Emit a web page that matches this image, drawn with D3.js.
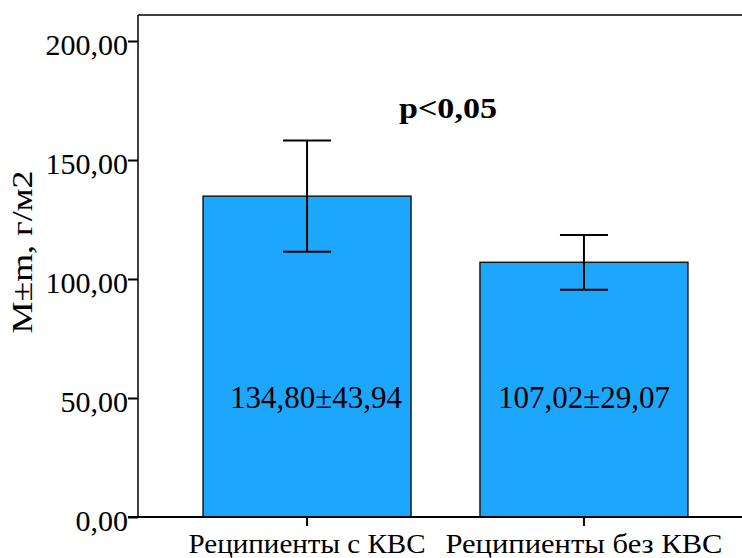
<!DOCTYPE html>
<html>
<head>
<meta charset="utf-8">
<script src="https://cdn.jsdelivr.net/npm/d3@7"></script>
<style>
  body { margin: 0; background: #fff; }
  svg text { font-family: "Liberation Serif", "DejaVu Serif", "Times New Roman", serif; fill: #000; }
</style>
</head>
<body>
<svg id="chart" width="742" height="558"></svg>
<script>
// data
const categories = ["Реципиенты с КВС", "Реципиенты без КВС"];
const means = [134.80, 107.02];
const errs = [23.4, 11.5];          // +/- m drawn as whiskers
const barLabels = ["134,80±43,94", "107,02±29,07"];
const yTicks = [0, 50, 100, 150, 200];

const svg = d3.select("#chart");
const plotLeft = 138, plotTop = 15, plotBottom = 517, plotRight = 742;

const y = d3.scaleLinear()
  .domain([0, 200])
  .range([plotBottom, 41]);

const x = d3.scaleBand()
  .domain(categories)
  .range([plotLeft, 753])
  .paddingInner(0.249)
  .paddingOuter(0.235);

const fmt = d => d.toFixed(2).replace(".", ",");

// frame: top line
svg.append("line")
  .attr("x1", plotLeft).attr("x2", plotRight)
  .attr("y1", plotTop).attr("y2", plotTop)
  .style("stroke", "#000").style("stroke-width", 1.5);

// bars
svg.selectAll("rect.bar")
  .data(categories)
  .enter().append("rect")
  .attr("class", "bar")
  .attr("x", d => x(d))
  .attr("width", x.bandwidth())
  .attr("y", (d, i) => y(means[i]))
  .attr("height", (d, i) => plotBottom - y(means[i]))
  .style("fill", "#1ca7fd")
  .style("stroke", "#1a1a1a")
  .style("stroke-width", 1.5);

// error bars
const capW = 24;
const eb = svg.selectAll("g.err")
  .data(categories)
  .enter().append("g")
  .attr("class", "err")
  .style("stroke", "#000").style("stroke-width", 2);
eb.append("line")
  .attr("x1", d => x(d) + x.bandwidth() / 2)
  .attr("x2", d => x(d) + x.bandwidth() / 2)
  .attr("y1", (d, i) => y(means[i] + errs[i]))
  .attr("y2", (d, i) => y(means[i] - errs[i]));
eb.append("line")
  .attr("x1", d => x(d) + x.bandwidth() / 2 - capW)
  .attr("x2", d => x(d) + x.bandwidth() / 2 + capW)
  .attr("y1", (d, i) => y(means[i] + errs[i]))
  .attr("y2", (d, i) => y(means[i] + errs[i]));
eb.append("line")
  .attr("x1", d => x(d) + x.bandwidth() / 2 - capW)
  .attr("x2", d => x(d) + x.bandwidth() / 2 + capW)
  .attr("y1", (d, i) => y(means[i] - errs[i]))
  .attr("y2", (d, i) => y(means[i] - errs[i]));

// value labels inside bars
svg.selectAll("text.val")
  .data(categories)
  .enter().append("text")
  .attr("class", "val")
  .attr("x", (d, i) => x(d) + x.bandwidth() / 2 + (i === 0 ? 9 : 0))
  .attr("y", 408)
  .style("text-anchor", "middle")
  .style("font-size", "31px")
  .text((d, i) => barLabels[i]);

// Y axis
const yAxis = svg.append("g")
  .attr("transform", "translate(" + plotLeft + ",0)")
  .call(d3.axisLeft(y).tickValues(yTicks).tickFormat(fmt).tickSize(10).tickSizeOuter(0));
yAxis.select(".domain").remove();
yAxis.selectAll(".tick line").style("stroke", "#000").style("stroke-width", 2);
yAxis.selectAll(".tick text")
  .attr("x", -10)
  .attr("dy", "0.45em")
  .style("font-size", "30px");
svg.append("line")
  .attr("x1", plotLeft).attr("x2", plotLeft)
  .attr("y1", plotTop).attr("y2", plotBottom)
  .style("stroke", "#000").style("stroke-width", 1.5);

// X axis
const catWidths = [237, 277];
const xAxis = svg.append("g")
  .attr("transform", "translate(0," + plotBottom + ")")
  .call(d3.axisBottom(x).tickSize(9).tickSizeOuter(0));
xAxis.select(".domain").remove();
xAxis.selectAll(".tick line").style("stroke", "#000").style("stroke-width", 2);
xAxis.selectAll(".tick text")
  .attr("y", 36)
  .attr("dy", 0)
  .attr("textLength", (d, i) => catWidths[i])
  .attr("lengthAdjust", "spacingAndGlyphs")
  .style("font-size", "27px");
svg.append("line")
  .attr("x1", plotLeft - 10).attr("x2", plotRight)
  .attr("y1", plotBottom).attr("y2", plotBottom)
  .style("stroke", "#000").style("stroke-width", 2);

// Y label
svg.append("text")
  .attr("transform", "translate(32,252) rotate(-90)")
  .style("text-anchor", "middle")
  .style("font-size", "29px")
  .attr("textLength", 163)
  .attr("lengthAdjust", "spacingAndGlyphs")
  .text("M±m, г/м2");

// significance note
svg.append("text")
  .attr("x", 448)
  .attr("y", 118)
  .style("text-anchor", "middle")
  .style("font-size", "29px")
  .style("font-weight", "bold")
  .attr("textLength", 98)
  .attr("lengthAdjust", "spacingAndGlyphs")
  .text("p<0,05");
</script>
</body>
</html>
